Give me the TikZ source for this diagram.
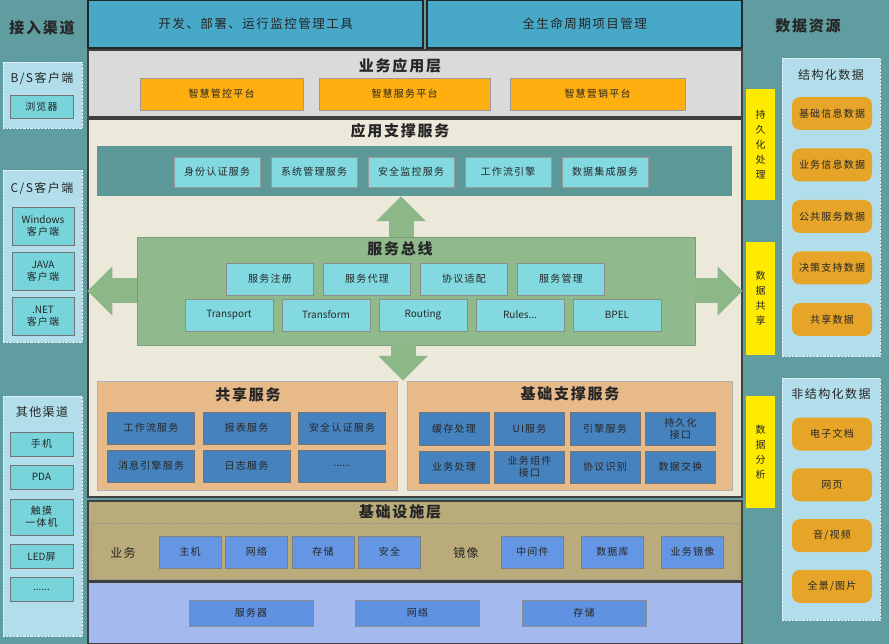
\documentclass[tikz,border=0pt]{standalone}
\usepackage{fontspec}
\newfontfamily\cjk[LetterSpace=12]{Noto Sans CJK SC}
\newfontfamily\lat{Noto Sans CJK SC}
\usetikzlibrary{arrows.meta}
\definecolor{sideteal}{RGB}{95,157,160}
\definecolor{panelblue}{RGB}{178,222,236}
\definecolor{chancyan}{RGB}{118,212,218}
\definecolor{toolblue}{RGB}{72,168,200}
\definecolor{bizgrey}{RGB}{218,218,218}
\definecolor{platorange}{RGB}{255,176,16}
\definecolor{appbeige}{RGB}{236,233,218}
\definecolor{stripteal}{RGB}{92,152,152}
\definecolor{svccyan}{RGB}{130,218,224}
\definecolor{busgreen}{RGB}{144,186,140}
\definecolor{arrowgreen}{RGB}{140,184,136}
\definecolor{sharetan}{RGB}{232,186,138}
\definecolor{darkblue}{RGB}{70,130,190}
\definecolor{infrakhaki}{RGB}{186,172,122}
\definecolor{infrablue}{RGB}{100,150,228}
\definecolor{hwband}{RGB}{164,186,238}
\definecolor{hwblue}{RGB}{96,146,226}
\definecolor{baryellow}{RGB}{255,234,0}
\definecolor{dataorange}{RGB}{230,164,40}
\tikzset{
  txt/.style={font=\cjk\fontsize{10}{12}\selectfont, text=black!85, inner sep=0pt, align=center},
  ttl/.style={txt, font=\cjk\bfseries\fontsize{15}{18}\selectfont},
  subttl/.style={txt, font=\cjk\fontsize{12}{14}\selectfont},
  panel/.style={txt, fill=panelblue, draw=white!70!panelblue, densely dotted},
  chanbox/.style={txt, fill=chancyan, draw=black!55},
  band/.style={draw=black!75, line width=1.2pt, inner sep=0pt},
  tool/.style={txt, fill=toolblue, draw=black!85, line width=1.2pt, font=\cjk\fontsize{12.5}{15}\selectfont},
  plat/.style={txt, fill=platorange, draw=black!40, minimum height=32},
  svc/.style={txt, fill=svccyan, draw=black!40, minimum width=86, minimum height=30},
  busbox/.style={txt, fill=svccyan, draw=black!45, minimum height=32},
  darkbox/.style={txt, fill=darkblue, draw=black!55, minimum height=32},
  infrabox/.style={txt, fill=infrablue, draw=black!50, minimum width=62, minimum height=32},
  hwbox/.style={txt, fill=hwblue, draw=black!45, minimum width=124, minimum height=26},
  yellowbar/.style={txt, fill=baryellow, minimum width=29, font=\cjk\fontsize{10}{15}\selectfont},
  databox/.style={txt, fill=dataorange, rounded corners=8pt, minimum width=80, minimum height=33},
  bigarrow/.style={draw=arrowgreen, line width=25pt, -{Triangle[width=48pt,length=25pt]}}
}
\begin{document}
\begin{tikzpicture}[x=1pt,y=-1pt]
\fill[sideteal] (0,0) rectangle (889,644);
\useasboundingbox (0,0) rectangle (889,644);
% access channels
\node[ttl] (chanTitle) at (42,28) {接入渠道};
\node[panel, minimum width=79, minimum height=66] (bs) at (42.5,95) {};
\node[subttl] (bsTitle) at (42,78) {B/S客户端};
\node[chanbox, minimum width=63, minimum height=23] (browser) at (41.5,106.5) {浏览器};
\node[panel, minimum width=79, minimum height=172] (cs) at (42.5,256) {};
\node[subttl] (csTitle) at (42,188) {C/S客户端};
\foreach \n/\t [count=\i] in {win/Windows, java/JAVA, dotnet/.NET}
  \node[chanbox, minimum width=62, minimum height=38] (\n) at (43,181+45*\i) {{\lat\t}\\客户端};
\node[panel, minimum width=79, minimum height=240] (other) at (42.5,516) {};
\node[subttl] (otherTitle) at (42,412) {其他渠道};
\node[chanbox, minimum width=63, minimum height=24] (phone) at (41.5,444) {手机};
\node[chanbox, minimum width=63, minimum height=24] (pda) at (41.5,477) {\lat PDA};
\node[chanbox, minimum width=63, minimum height=36] (touch) at (41.5,517) {触摸\\一体机};
\node[chanbox, minimum width=63, minimum height=24] (led) at (41.5,556.5) {{\lat LED}屏};
\node[chanbox, minimum width=63, minimum height=24] (moreChan) at (41.5,589.5) {\lat ......};
% data resources
\node[ttl] (dataTitle) at (808,26) {数据资源};
\node[yellowbar, minimum height=111] (persist) at (760.5,144.5) {持\\久\\化\\处\\理};
\node[yellowbar, minimum height=113] (sharing) at (760.5,298.5) {数\\据\\共\\享};
\node[yellowbar, minimum height=112] (analysis) at (760.5,452) {数\\据\\分\\析};
\node[panel, minimum width=98, minimum height=298] (struct) at (831,207) {};
\node[subttl] (structTitle) at (831,75) {结构化数据};
\foreach \t [count=\i from 0] in {基础信息数据,业务信息数据,公共服务数据,决策支持数据,共享数据}
  \node[databox] (d\i) at (832,113.5+51.5*\i) {\t};
\node[panel, minimum width=98, minimum height=242] (unstruct) at (831,499) {};
\node[subttl] (unstructTitle) at (831,394) {非结构化数据};
\foreach \t [count=\i from 0] in {电子文档,网页,音/视频,全景/图片}
  \node[databox] (u\i) at (832,434+50.8*\i) {\t};
% tools
\node[tool, minimum width=335, minimum height=48] (devtool) at (255.5,24) {开发、部署、运行监控管理工具};
\node[tool, minimum width=315, minimum height=48] (lifecycle) at (584.5,24) {全生命周期项目管理};
% business layer
\node[band, fill=bizgrey, minimum width=654, minimum height=67] (bizband) at (415,83.5) {};
\node[ttl] (bizTitle) at (400,66) {业务应用层};
\node[plat, minimum width=163] (plat1) at (221.5,94) {智慧管控平台};
\node[plat, minimum width=171] (plat2) at (404.5,94) {智慧服务平台};
\node[plat, minimum width=175] (plat3) at (597.5,94) {智慧营销平台};
% application support
\node[band, fill=appbeige, minimum width=654, minimum height=378] (appband) at (415,308) {};
\node[ttl] (appTitle) at (400,131) {应用支撑服务};
\node[fill=stripteal, minimum width=635, minimum height=50, inner sep=0pt] (strip) at (414.5,171) {};
\foreach \t [count=\i from 0] in {身份认证服务,系统管理服务,安全监控服务,工作流引擎,数据集成服务}
  \node[svc] (s\i) at (217+97*\i,172) {\t};
% service bus
\node[fill=busgreen, draw=busgreen!85!black, minimum width=558, minimum height=108] (bus) at (416,291) {};
\node[ttl] (busTitle) at (400,249) {服务总线};
\foreach \t [count=\i from 0] in {服务注册,服务代理,协议适配,服务管理}
  \node[busbox, minimum width=87] (r\i) at (270+97*\i,279) {\t};
\node[busbox, minimum width=88] (transport) at (229,315) {\lat Transport};
\node[busbox, minimum width=88] (transform) at (326,315) {\lat Transform};
\node[busbox, minimum width=88] (routing) at (423,315) {\lat Routing};
\node[busbox, minimum width=88] (rules) at (520,315) {\lat Rules...};
\node[busbox, minimum width=88] (bpel) at (617,315) {\lat BPEL};
\draw[bigarrow] ([xshift=-15pt]bus.north) -- ([xshift=-15pt]bus.north |- strip.south);
\draw[bigarrow] (bus.west) -- (bus.west -| appband.west);
\draw[bigarrow] (bus.east) -- (bus.east -| appband.east);
% shared and base services
\node[fill=sharetan, draw=black!30, minimum width=300, minimum height=109] (share) at (247,435.5) {};
\node[ttl] (shareTitle) at (248,395) {共享服务};
\node[darkbox, minimum width=87] (sh1) at (151,428) {工作流服务};
\node[darkbox, minimum width=87] (sh2) at (246.5,428) {报表服务};
\node[darkbox, minimum width=87] (sh3) at (342,428) {安全认证服务};
\node[darkbox, minimum width=87] (sh4) at (151,466) {消息引擎服务};
\node[darkbox, minimum width=87] (sh5) at (246.5,466) {日志服务};
\node[darkbox, minimum width=87] (sh6) at (342,466) {\lat ......};
\node[fill=sharetan, draw=black!30, minimum width=325, minimum height=109] (basesvc) at (569.5,435.5) {};
\node[ttl] (baseTitle) at (570,394) {基础支撑服务};
\foreach \t [count=\i from 0] in {缓存处理,UI服务,引擎服务,{持久化\\接口}}
  \node[darkbox, minimum width=70, minimum height=33] (ba\i) at (454+75.5*\i,428.5) {\t};
\foreach \t [count=\i from 0] in {业务处理,{业务组件\\接口},协议识别,数据交换}
  \node[darkbox, minimum width=70] (bb\i) at (454+75.5*\i,467) {\t};
\draw[bigarrow] ([xshift=-13pt]bus.south) -- ([xshift=-13pt]bus.south |- share.north);
% infrastructure
\node[band, fill=infrakhaki, minimum width=654, minimum height=80] (infra) at (415,541) {};
\node[draw=black!40, densely dotted, minimum width=648, minimum height=56, inner sep=0pt] (infraIn) at (415,551) {};
\node[ttl] (infraTitle) at (400,512) {基础设施层};
\node[subttl] (bizLbl) at (123,553) {业务};
\foreach \t [count=\i from 0] in {主机,网络,存储,安全}
  \node[infrabox] (i\i) at (190+66.5*\i,552) {\t};
\node[subttl] (imgLbl) at (466,553) {镜像};
\foreach \t [count=\i from 0] in {中间件,数据库,业务镜像}
  \node[infrabox] (m\i) at (532.5+80*\i,552) {\t};
\node[band, fill=hwband, minimum width=654, minimum height=62] (hw) at (415,613) {};
\foreach \t [count=\i from 0] in {服务器,网络,存储}
  \node[hwbox] (h\i) at (251+166.5*\i,613) {\t};
\end{tikzpicture}
\end{document}
